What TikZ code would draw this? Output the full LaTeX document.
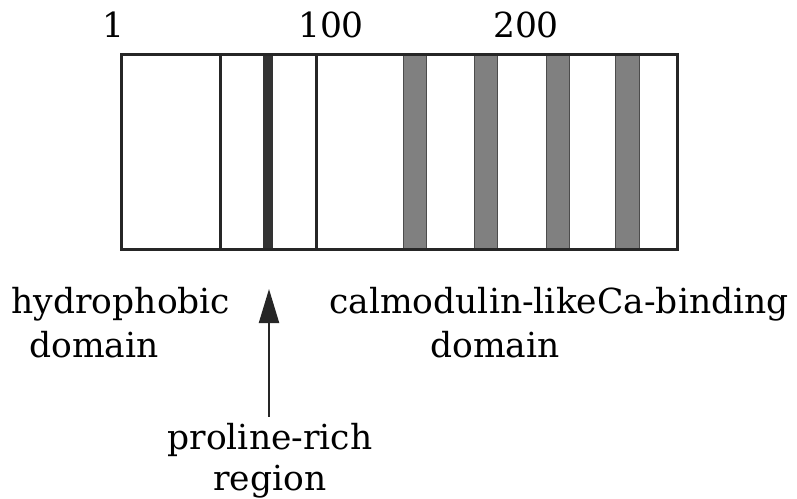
\documentclass[tikz,border=0pt]{standalone}
\usepackage{fontspec}
\setmainfont{DejaVu Serif}
\usetikzlibrary{arrows.meta}
\begin{document}
\begin{tikzpicture}[x=1pt,y=-1pt,
  lbl/.style={font=\fontsize{34.5}{43}\selectfont, inner sep=0pt, anchor=base},
  frame/.style={draw=black!85, line width=3pt},
  divider/.style={draw=black!85, line width=3pt},
  motif/.style={fill=black!50, draw=black!70, line width=0.8pt},
  prorich/.style={fill=black!80, draw=none}]
\useasboundingbox (0,0) rectangle (797,498);
% sequence bar
\fill[white] (120,53) rectangle (676,248);
\draw[divider] (220,53) -- (220,248);
\draw[divider] (316,53) -- (316,248);
\fill[prorich] (263,53) rectangle (273,248);
\foreach \a/\b in {403/426, 474/497, 546/569, 615/639}
  \filldraw[motif] (\a,53) rectangle (\b,250);
\node[frame, minimum width=556pt, minimum height=195pt, inner sep=0pt, anchor=north west] (bar) at (120,53) {};
% residue numbers
\node[lbl] (n1) at (113,37) {1};
\node[lbl] (n100) at (331,37) {100};
\node[lbl] (n200) at (526,37) {200};
% domain labels
\node[lbl] (hyd) at (121,313) {hydrophobic};
\node[lbl] (hydd) at (94,357) {domain};
\node[lbl] (cam) at (559,313) {calmodulin-likeCa-binding};
\node[lbl] (camd) at (495,357) {domain};
\node[lbl] (pro) at (270,449) {proline-rich};
\node[lbl] (prod) at (270,490) {region};
\coordinate (tip) at (269,289);
\draw[line width=2.2pt, black!85, -{Triangle[length=34pt,width=20pt]}] (pro.north -| tip) ++(0,-6) -- (tip);
\end{tikzpicture}
\end{document}
